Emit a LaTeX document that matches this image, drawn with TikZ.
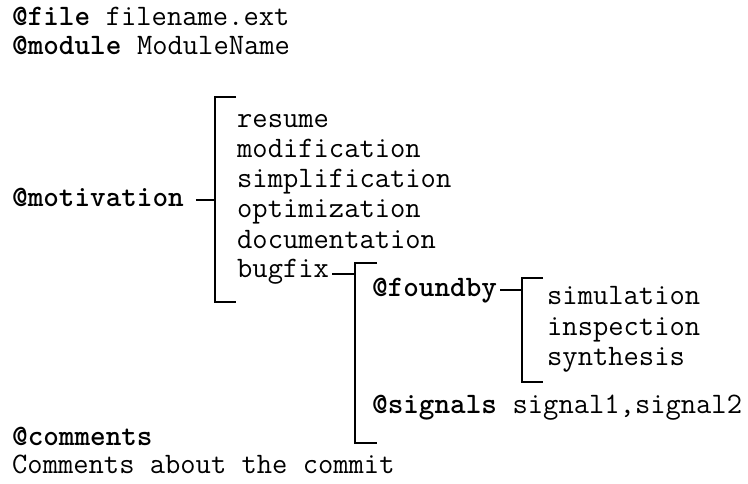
\documentclass[tikz,border=0pt]{standalone}
\usepackage{fontspec}
\begin{document}
\begin{tikzpicture}[x=1pt,y=-1pt,
  txt/.style={anchor=base west,inner sep=0pt,font=\ttfamily\fontsize{29.7}{33}\selectfont},
  kw/.style={txt,font=\ttfamily\bfseries\fontsize{29.7}{33}\selectfont},
  br/.style={draw=black,line width=2.3pt,line cap=butt,line join=miter}]
\useasboundingbox (0,0) rectangle (748,484);

% header lines
\node[kw] (fileK) at (12,26) {@file};
\node[txt] (fileV) at (fileK.base east) {\ filename.ext};
\node[kw] (modK) at (12,55) {@module};
\node[txt] (modV) at (modK.base east) {\ ModuleName};

% motivation branch
\node[kw] (motiv) at (12,207) {@motivation};
\node[txt] (m1) at (237,128) {resume};
\node[txt] (m2) at (237,158) {modification};
\node[txt] (m3) at (237,188) {simplification};
\node[txt] (m4) at (237,218) {optimization};
\node[txt] (m5) at (237,248) {documentation};
\node[txt] (m6) at (237,277) {bugfix};

\coordinate (b1t) at (215,97);
\coordinate (b1b) at (215,302);
\draw[br] ([xshift=21pt]b1t) -- (b1t) -- (b1b) -- ([xshift=21pt]b1b);
\coordinate (c1) at ([shift={(12,-7)}]motiv.base east);
\draw[br] (c1) -- (c1 -| b1t);

% bugfix sub-branch
\node[kw] (found) at (372,297) {@foundby};
\node[kw] (sigK) at (372,413) {@signals};
\node[txt] (sigV) at (sigK.base east) {\ signal1,signal2};

\coordinate (b2t) at (355,263);
\coordinate (b2b) at (355,443);
\draw[br] ([xshift=22pt]b2t) -- (b2t) -- (b2b) -- ([xshift=22pt]b2b);
\coordinate (c2) at ([shift={(3,-3)}]m6.base east);
\draw[br] (c2) -- (c2 -| b2t);

% foundby sub-branch
\node[txt] (f1) at (547,305) {simulation};
\node[txt] (f2) at (547,335) {inspection};
\node[txt] (f3) at (547,365) {synthesis};

\coordinate (b3t) at (522,278);
\coordinate (b3b) at (522,382);
\draw[br] ([xshift=21pt]b3t) -- (b3t) -- (b3b) -- ([xshift=21pt]b3b);
\coordinate (c3) at ([shift={(3,-7)}]found.base east);
\draw[br] (c3) -- (c3 -| b3t);

% comments
\node[kw] (comK) at (12,445) {@comments};
\node[txt] (comV) at (12,473) {Comments about the commit};
\end{tikzpicture}
\end{document}
